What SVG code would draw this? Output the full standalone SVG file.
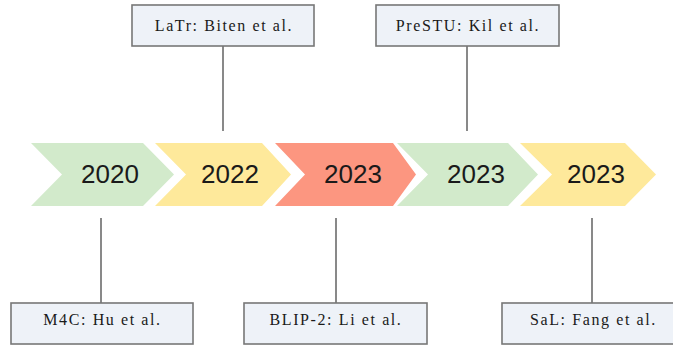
<svg xmlns="http://www.w3.org/2000/svg" width="673" height="345" viewBox="0 0 673 345">
<defs>
<style>
.g{fill:#d2eacb}.y{fill:#fee99b}.r{fill:#fc9680}
.yr{font-family:"Liberation Sans",Arial,sans-serif;font-size:26px;fill:#1a1a1a;text-anchor:middle}
.box{fill:#eef2f8;stroke:#777777;stroke-width:1.6}
.lbl{font-family:"Liberation Serif","Times New Roman",serif;font-size:16px;fill:#1a1a1a;text-anchor:middle;letter-spacing:1.6px}
.ln{stroke:#4a4a4a;stroke-width:1.3;fill:none}
</style>
</defs>
<rect width="673" height="345" fill="#ffffff"/>
<g id="connectors">
<line class="ln" x1="223" y1="46" x2="223" y2="131"/>
<line class="ln" x1="467" y1="46" x2="467" y2="131"/>
<line class="ln" x1="101" y1="218" x2="101" y2="303"/>
<line class="ln" x1="336" y1="218" x2="336" y2="303"/>
<line class="ln" x1="592" y1="218" x2="592" y2="303"/>
</g>
<g id="y2020"><polygon class="g" points="31,143 143,143 174,174.5 143,206 31,206 62,174.5"/><text class="yr" x="110" y="183">2020</text></g>
<g id="y2022"><polygon class="y" points="155,143 262,143 291,174.5 262,206 155,206 186,174.5"/><text class="yr" x="230" y="183">2022</text></g>
<g id="y2023a"><polygon class="r" points="275,143 393,143 416,174.5 393,206 275,206 305,174.5"/><text class="yr" x="353" y="183">2023</text></g>
<g id="y2023b"><polygon class="g" points="397,143 508,143 538,174.5 508,206 397,206 428,174.5"/><text class="yr" x="476" y="183">2023</text></g>
<g id="y2023c"><polygon class="y" points="520,143 625,143 656,174.5 625,206 520,206 552,174.5"/><text class="yr" x="596" y="183">2023</text></g>
<g id="latr"><rect class="box" x="132" y="5" width="182" height="41"/><text class="lbl" x="224" y="30.5">LaTr: Biten et al.</text></g>
<g id="prestu"><rect class="box" x="376" y="5" width="183" height="41"/><text class="lbl" x="468" y="30.5">PreSTU: Kil et al.</text></g>
<g id="m4c"><rect class="box" x="11" y="303" width="182" height="41"/><text class="lbl" x="102.5" y="325">M4C: Hu et al.</text></g>
<g id="blip2"><rect class="box" x="244" y="303" width="183" height="41"/><text class="lbl" x="336" y="325">BLIP-2: Li et al.</text></g>
<g id="sal"><rect class="box" x="502" y="303" width="182" height="41"/><text class="lbl" x="593.5" y="325">SaL: Fang et al.</text></g>
</svg>
